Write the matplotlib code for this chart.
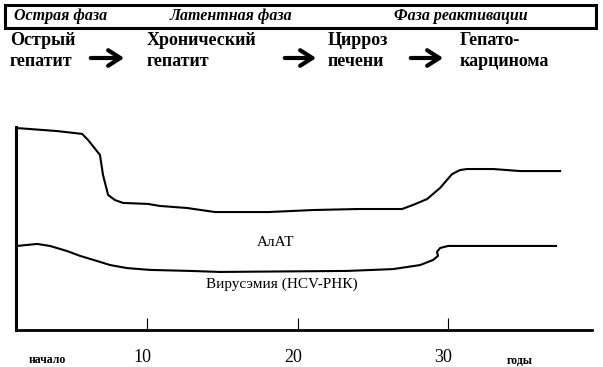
import matplotlib
matplotlib.use("Agg")
import matplotlib.pyplot as plt
from matplotlib.patches import Rectangle, FancyArrowPatch
import matplotlib.transforms as mtransforms

# ---------------- data ----------------
phase_labels = ["Острая фаза", "Латентная фаза", "Фаза реактивации"]
stage_labels = ["Острый\nгепатит", "Хронический\nгепатит", "Цирроз\nпечени", "Гепато-\nкарцинома"]

alt_years = [1.28, 2.21, 4.01, 5.67, 6.07, 6.86, 7.06, 7.40, 7.86, 8.39, 10.05, 10.85,
             12.64, 14.51, 18.03, 21.02, 24.01, 26.93, 27.66, 28.59, 29.46, 30.25,
             30.78, 31.25, 32.98, 34.77, 37.43]
alt_level = [99.5, 99.0, 98.0, 96.6, 93.6, 86.2, 76.4, 66.5, 64.0, 62.6, 62.1, 61.1,
             60.1, 58.1, 58.1, 59.1, 59.6, 59.6, 61.6, 64.5, 70.0, 76.8,
             78.8, 79.3, 79.3, 78.3, 78.3]

vir_years = [1.35, 2.68, 3.54, 4.67, 5.54, 6.66, 7.53, 8.66, 10.19, 12.84, 14.84,
             23.28, 26.33, 28.13, 28.99, 29.32, 29.25, 29.46, 29.99, 37.16]
vir_level = [41.4, 42.4, 41.4, 38.9, 36.5, 34.0, 32.0, 30.5, 29.6, 29.1, 28.6,
             29.1, 30.0, 32.0, 34.5, 36.5, 38.5, 40.4, 41.4, 41.4]

tick_years = [10, 20, 30]
tick_labels = ["10", "20", "30"]
start_label = "начало"
unit_label = "годы"
alt_label = "АлАТ"
vir_label = "Вирусэмия (HCV-РНК)"

# ---------------- layout helpers ----------------
W, H = 603, 367
fig = plt.figure(figsize=(W / 100, H / 100), dpi=100)
fig.patch.set_facecolor("white")
SERIF = ["Liberation Serif", "DejaVu Serif"]


def fx(px):
    return px / W


def fy(py):
    return 1 - py / H


# ---------------- main axes ----------------
ax = fig.add_axes([fx(16), fy(330), fx(592) - fx(16), fy(127) - fy(330)])
ax.set_xlim(1.28, 39.55)
ax.set_ylim(0, 100)
for s in ["top", "right"]:
    ax.spines[s].set_visible(False)
ax.spines["left"].set_linewidth(2.2)
ax.spines["bottom"].set_linewidth(2.0)
ax.set_yticks([])

ax.plot(alt_years, alt_level, color="black", lw=1.5, clip_on=False,
        solid_joinstyle="round")
ax.plot(vir_years, vir_level, color="black", lw=1.5, clip_on=False,
        solid_joinstyle="round")

ax.set_xticks(tick_years)
ax.set_xticklabels(tick_labels, fontsize=13, family=SERIF)
ax.tick_params(axis="x", direction="in", length=9, width=0.8, pad=14)
offset = mtransforms.ScaledTranslation(-5 / 100, 0, fig.dpi_scale_trans)
for lab in ax.get_xticklabels():
    lab.set_transform(lab.get_transform() + offset)

ax.text(18.5, 43.3, alt_label, ha="center", va="center", fontsize=11, family=SERIF)
ax.text(18.96, 22.7, vir_label, ha="center", va="center", fontsize=11, family=SERIF)

fig.text(fx(47), fy(363), start_label, ha="center", va="baseline",
         fontsize=8.5, fontweight="bold", family=SERIF)
fig.text(fx(520), fy(364), unit_label, ha="center", va="baseline",
         fontsize=8.5, fontweight="bold", family=SERIF)

# ---------------- phase box ----------------
box = Rectangle((fx(5), fy(28)), fx(596) - fx(5), fy(5) - fy(28), fill=False,
                lw=2.2, edgecolor="black", transform=fig.transFigure)
fig.add_artist(box)
for lab, cx in zip(phase_labels, [61, 231, 461]):
    fig.text(fx(cx), fy(16.5), lab, ha="center", va="center", fontsize=11.5,
             fontstyle="italic", fontweight="bold", family=SERIF)

# ---------------- stages ----------------
for lab, lx in zip(stage_labels, [10, 147, 328, 460]):
    fig.text(fx(lx), fy(32), lab, ha="left", va="top", fontsize=13,
             fontweight="bold", family=SERIF, linespacing=1.3)

for x0, x1 in [(88, 127), (282, 319), (408, 446)]:
    arr = FancyArrowPatch((fx(x0), fy(58)), (fx(x1), fy(58)),
                          transform=fig.transFigure,
                          arrowstyle="->,head_length=0.55,head_width=0.35",
                          mutation_scale=16, lw=3, color="black")
    fig.add_artist(arr)

fig.savefig("out.png", dpi=100, facecolor="white")
